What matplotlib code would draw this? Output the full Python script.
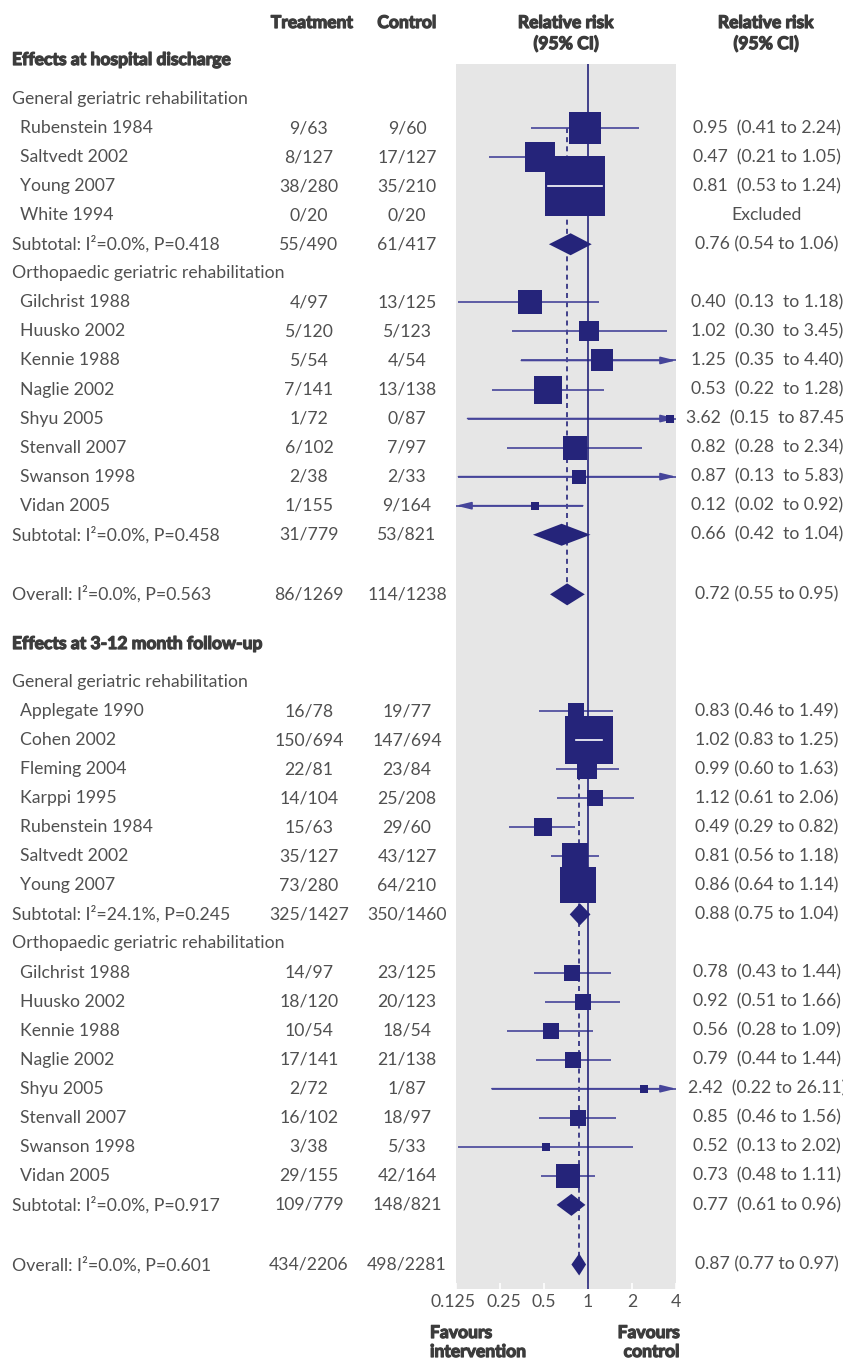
import numpy as np
import matplotlib.pyplot as plt
import matplotlib.patheffects as pe
import matplotlib.transforms as mtrans
from matplotlib.patches import Polygon

plt.rcParams['font.family'] = ['Lato', 'DejaVu Sans']

# Effects at hospital discharge - general geriatric rehabilitation
dis_gen_names = ['Rubenstein 1984', 'Saltvedt 2002', 'Young 2007', 'White 1994']
dis_gen_treat = ['9/63', '8/127', '38/280', '0/20']
dis_gen_ctrl = ['9/60', '17/127', '35/210', '0/20']
dis_gen_rr = [0.95, 0.47, 0.81, np.nan]
dis_gen_lo = [0.41, 0.21, 0.53, np.nan]
dis_gen_hi = [2.24, 1.05, 1.24, np.nan]
dis_gen_wt = [11.5, 10.8, 41.8, 0.0]
dis_gen_box = dis_gen_rr

# Effects at hospital discharge - orthopaedic geriatric rehabilitation
dis_ort_names = ['Gilchrist 1988', 'Huusko 2002', 'Kennie 1988', 'Naglie 2002',
                 'Shyu 2005', 'Stenvall 2007', 'Swanson 1998', 'Vidan 2005']
dis_ort_treat = ['4/97', '5/120', '5/54', '7/141', '1/72', '6/102', '2/38', '1/155']
dis_ort_ctrl = ['13/125', '5/123', '4/54', '13/138', '0/87', '7/97', '2/33', '9/164']
dis_ort_rr = [0.40, 1.02, 1.25, 0.53, 3.62, 0.82, 0.87, 0.12]
dis_ort_lo = [0.13, 0.30, 0.35, 0.22, 0.15, 0.28, 0.13, 0.02]
dis_ort_hi = [1.18, 3.45, 4.40, 1.28, 87.45, 2.34, 5.83, 0.92]
dis_ort_wt = [6.3, 4.5, 5.4, 8.6, 0.9, 7.0, 2.4, 0.7]
# box positions as drawn in the source figure (Vidan box sits near 0.43, not at 0.12)
dis_ort_box = [0.40, 1.02, 1.25, 0.53, 3.62, 0.82, 0.87, 0.435]

# 3-12 month follow-up - general geriatric rehabilitation
fu_gen_names = ['Applegate 1990', 'Cohen 2002', 'Fleming 2004', 'Karppi 1995',
                'Rubenstein 1984', 'Saltvedt 2002', 'Young 2007']
fu_gen_treat = ['16/78', '150/694', '22/81', '14/104', '15/63', '35/127', '73/280']
fu_gen_ctrl = ['19/77', '147/694', '23/84', '25/208', '29/60', '43/127', '64/210']
fu_gen_rr = [0.83, 1.02, 0.99, 1.12, 0.49, 0.81, 0.86]
fu_gen_lo = [0.46, 0.83, 0.60, 0.61, 0.29, 0.56, 0.64]
fu_gen_hi = [1.49, 1.25, 1.63, 2.06, 0.82, 1.18, 1.14]
fu_gen_wt = [3.5, 30.9, 5.4, 3.5, 4.9, 8.5, 17.6]
fu_gen_box = fu_gen_rr

# 3-12 month follow-up - orthopaedic geriatric rehabilitation
fu_ort_names = dis_ort_names
fu_ort_treat = ['14/97', '18/120', '10/54', '17/141', '2/72', '16/102', '3/38', '29/155']
fu_ort_ctrl = ['23/125', '20/123', '18/54', '21/138', '1/87', '18/97', '5/33', '42/164']
fu_ort_rr = [0.78, 0.92, 0.56, 0.79, 2.42, 0.85, 0.52, 0.73]
fu_ort_lo = [0.43, 0.51, 0.28, 0.44, 0.22, 0.46, 0.13, 0.48]
fu_ort_hi = [1.44, 1.66, 1.09, 1.44, 26.11, 1.56, 2.02, 1.11]
fu_ort_wt = [3.5, 3.9, 3.1, 3.5, 0.7, 3.1, 0.9, 7.2]
fu_ort_box = fu_ort_rr

# pooled estimates: (label, treatment, control, rr, lo, hi)
dis_sub = [('Subtotal: I²=0.0%, P=0.418', '55/490', '61/417', 0.76, 0.54, 1.06),
           ('Subtotal: I²=0.0%, P=0.458', '31/779', '53/821', 0.66, 0.42, 1.04)]
dis_all = ('Overall: I²=0.0%, P=0.563', '86/1269', '114/1238', 0.72, 0.55, 0.95)
fu_sub = [('Subtotal: I²=24.1%, P=0.245', '325/1427', '350/1460', 0.88, 0.75, 1.04),
          ('Subtotal: I²=0.0%, P=0.917', '109/779', '148/821', 0.77, 0.61, 0.96)]
fu_all = ('Overall: I²=0.0%, P=0.601', '434/2206', '498/2281', 0.87, 0.77, 0.97)

group_names = ['General geriatric rehabilitation', 'Orthopaedic geriatric rehabilitation']
ticks = [0.125, 0.25, 0.5, 1, 2, 4]
tick_labels = ['0.125', '0.25', '0.5', '1', '2', '4']

# style
NAVY = '#25247a'
LINE = '#46459a'
TXT = '#505050'
HEAD = '#3c3c3c'
FS = 12.7
FSB = 12.6
W, H = 843, 1360
XMIN, XMAX = 0.125, 4
STEP = 29.05
X_TREAT, X_CTRL, X_CI = 309, 407, 767

fig = plt.figure(figsize=(W / 100, H / 100), dpi=100)
bg = fig.add_axes([0, 0, 1, 1])
bg.set_xlim(0, W)
bg.set_ylim(H, 0)
bg.axis('off')

ax = fig.add_axes([456 / W, 1 - 1289 / H, 220 / W, (1289 - 64) / H])
ax.set_xscale('log', base=2)
ax.set_xlim(XMIN, XMAX)
ax.set_ylim(1289, 64)
ax.set_facecolor('#e6e6e6')
for s in ax.spines.values():
    s.set_visible(False)
ax.set_xticks(ticks)
ax.set_xticklabels([])
ax.minorticks_off()
ax.tick_params(axis='x', direction='in', length=4, width=1.2, color='white')
ax.set_yticks([])

# tick labels drawn by hand so the crowded left pair can be spread a little
nudge = {'0.125': -3, '0.25': 4}
for t, lab in zip(ticks, tick_labels):
    off = mtrans.ScaledTranslation(nudge.get(lab, 0) / 100, 0, fig.dpi_scale_trans)
    ax.text(t, -0.011, lab, transform=ax.get_xaxis_transform() + off, ha='center',
            va='center', fontsize=FS, color=TXT, clip_on=False)

px_per_log2 = 220 / np.log2(XMAX / XMIN)
heavy = [pe.withStroke(linewidth=0.9, foreground=HEAD)]


def txt(x, y, s, ha='left', bold=False):
    if bold:
        bg.text(x, y, s, ha=ha, va='center', fontsize=FSB, color=HEAD,
                fontweight='bold', path_effects=heavy)
    else:
        bg.text(x, y, s, ha=ha, va='center', fontsize=FS, color=TXT)


def ci_text(rr, lo, hi, sep1, sep2):
    return f'{rr:.2f}{sep1}({lo:.2f}{sep2}to {hi:.2f})'


def study(y, name, tr, ct, rr, lo, hi, wt, box, scale, sep1, sep2):
    txt(20, y, name)
    txt(X_TREAT, y, tr, ha='center')
    txt(X_CTRL, y, ct, ha='center')
    if np.isnan(rr):
        txt(X_CI, y, 'Excluded', ha='center')
        return
    txt(X_CI, y, ci_text(rr, lo, hi, sep1, sep2), ha='center')
    a = max(lo, XMIN)
    b = min(hi, XMAX)
    ax.plot([a, b], [y, y], color=LINE, lw=1.2, zorder=3, solid_capstyle='butt')
    arrow = dict(arrowstyle='-|>,head_length=0.9,head_width=0.22', color=LINE,
                 lw=1.2, shrinkA=0, shrinkB=0, mutation_scale=10)
    if hi > XMAX:
        ax.annotate('', xy=(XMAX, y), xytext=(a, y), arrowprops=arrow, zorder=3)
    if lo < XMIN:
        ax.annotate('', xy=(XMIN, y), xytext=(b, y), arrowprops=arrow, zorder=3)
    side = scale * np.sqrt(wt)
    ax.plot([box], [y], marker='s', ms=side * 0.72, color=NAVY, mew=0, zorder=4,
            clip_on=False)
    half = side / 2 / px_per_log2
    if np.log2(lo) >= np.log2(box) - half and np.log2(hi) <= np.log2(box) + half:
        ax.plot([lo, hi], [y, y], color='white', lw=1.2, zorder=5)


def pooled(y, row, sep1, sep2):
    label, tr, ct, rr, lo, hi = row
    txt(12, y, label)
    txt(X_TREAT, y, tr, ha='center')
    txt(X_CTRL, y, ct, ha='center')
    txt(X_CI, y, ci_text(rr, lo, hi, sep1, sep2), ha='center')
    h = 11
    ax.add_patch(Polygon([(lo, y), (rr, y - h), (hi, y), (rr, y + h)], closed=True,
                         facecolor=NAVY, edgecolor='none', zorder=4))


def section(y_head, title, y0, gen, ort, subs, overall, scale, seps):
    txt(12, y_head, title, bold=True)
    i = 0
    txt(12, y0, group_names[0])
    i += 1
    first_y = y0 + i * STEP
    for k in range(len(gen[0])):
        study(y0 + i * STEP, *[g[k] for g in gen], scale, *seps[0])
        i += 1
    pooled(y0 + i * STEP, subs[0], *seps[1])
    i += 1
    txt(12, y0 + i * STEP, group_names[1])
    i += 1
    for k in range(len(ort[0])):
        study(y0 + i * STEP, *[g[k] for g in ort], scale, *seps[2])
        i += 1
    pooled(y0 + i * STEP, subs[1], *seps[3])
    i += 2
    y_all = y0 + i * STEP + 1.5
    pooled(y_all, overall, *seps[4])
    ax.plot([overall[3], overall[3]], [first_y, y_all], color=NAVY, lw=1.2,
            ls=(0, (3, 2.5)), zorder=2)


# line of no effect
ax.axvline(1, color=NAVY, lw=1.2, zorder=3.5)

section(60, 'Effects at hospital discharge', 99,
        [dis_gen_names, dis_gen_treat, dis_gen_ctrl, dis_gen_rr, dis_gen_lo, dis_gen_hi,
         dis_gen_wt, dis_gen_box],
        [dis_ort_names, dis_ort_treat, dis_ort_ctrl, dis_ort_rr, dis_ort_lo, dis_ort_hi,
         dis_ort_wt, dis_ort_box],
        dis_sub, dis_all, 9.43,
        [('  ', ' '), (' ', ' '), ('  ', '  '), ('  ', '  '), (' ', ' ')])

section(644, 'Effects at 3-12 month follow-up', 682,
        [fu_gen_names, fu_gen_treat, fu_gen_ctrl, fu_gen_rr, fu_gen_lo, fu_gen_hi,
         fu_gen_wt, fu_gen_box],
        [fu_ort_names, fu_ort_treat, fu_ort_ctrl, fu_ort_rr, fu_ort_lo, fu_ort_hi,
         fu_ort_wt, fu_ort_box],
        fu_sub, fu_all, 8.58,
        [(' ', ' '), (' ', ' '), ('  ', ' '), ('  ', ' '), (' ', ' ')])

# column headers
txt(312, 23, 'Treatment', ha='center', bold=True)
txt(407, 23, 'Control', ha='center', bold=True)
txt(566, 23, 'Relative risk', ha='center', bold=True)
txt(566, 44, '(95% CI)', ha='center', bold=True)
txt(766, 23, 'Relative risk', ha='center', bold=True)
txt(766, 44, '(95% CI)', ha='center', bold=True)

txt(430, 1333, 'Favours', bold=True)
txt(430, 1352, 'intervention', bold=True)
txt(680, 1333, 'Favours', ha='right', bold=True)
txt(680, 1352, 'control', ha='right', bold=True)

fig.savefig('out.png', dpi=100, facecolor='white')
